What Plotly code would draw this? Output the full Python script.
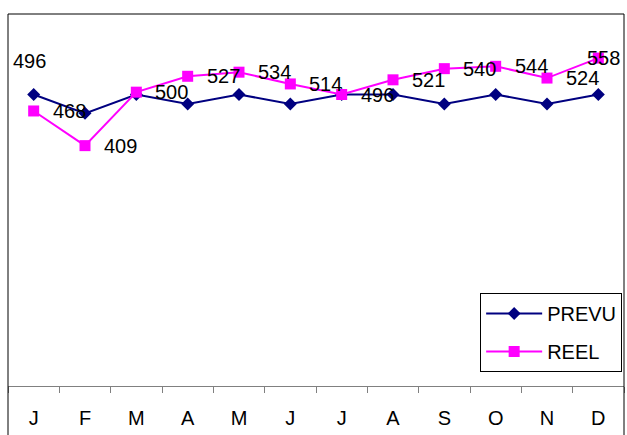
import plotly.graph_objects as go

# mois (initiales) et valeurs
mois = ["J", "F", "M", "A", "M", "J", "J", "A", "S", "O", "N", "D"]
prevu = [496, 464, 496, 480, 496, 480, 496, 496, 480, 496, 480, 496]
reel = [468, 409, 500, 527, 534, 514, 496, 521, 540, 544, 524, 558]

FONT = "Liberation Sans, Arial, sans-serif"
idx = list(range(len(mois)))

fig = go.Figure()
fig.add_trace(go.Scatter(
    x=idx, y=prevu, name="PREVU", mode="lines+markers", legendgroup="a",
    line=dict(color="#000080", width=2),
    marker=dict(symbol="diamond", size=10, color="#000080"),
))
fig.add_trace(go.Scatter(
    x=idx, y=reel, name="REEL", mode="lines+markers", legendgroup="b",
    line=dict(color="#FF00FF", width=2),
    marker=dict(symbol="square", size=11, color="#FF00FF"),
))

# étiquettes de données (la dernière est repoussée à gauche, comme dans Excel)
for i, v in zip(idx, reel):
    fig.add_annotation(x=i, y=v, text=str(v), showarrow=False, xanchor="left",
                       xshift=17 if i < idx[-1] else -13,
                       font=dict(size=20, color="black", family=FONT))
fig.add_annotation(x=idx[0], y=prevu[0], text=str(prevu[0]), showarrow=False,
                   xshift=-4, yshift=34, font=dict(size=20, color="black", family=FONT))

# cadre
fig.add_shape(type="rect", xref="paper", yref="paper", x0=0, x1=1, y0=-0.4, y1=1,
              line=dict(color="black", width=1), layer="above")

fig.update_layout(
    width=627, height=435,
    margin=dict(l=8, r=3, t=14, b=49),
    paper_bgcolor="white", plot_bgcolor="white",
    font=dict(family=FONT, size=20, color="black"),
    showlegend=True,
    legend=dict(x=0.997, xanchor="right", y=0.25, yanchor="top",
                bordercolor="black", borderwidth=1, bgcolor="white",
                tracegroupgap=9, itemwidth=56, font=dict(size=20)),
    xaxis=dict(range=[-0.5, 11.5], tickmode="array", tickvals=idx, ticktext=mois,
               ticks="", showline=True, linecolor="#808080", linewidth=1,
               showgrid=False, zeroline=False, ticklabelstandoff=14,
               minor=dict(ticks="outside", ticklen=6, tickcolor="#808080",
                          tick0=-0.5, dtick=1, showgrid=False)),
    yaxis=dict(range=[0, 633], showticklabels=False, showgrid=False,
               zeroline=False, showline=False, ticks=""),
)

fig.write_html("out.html", config={"displayModeBar": False},
               post_script="document.body.style.margin='0';")
